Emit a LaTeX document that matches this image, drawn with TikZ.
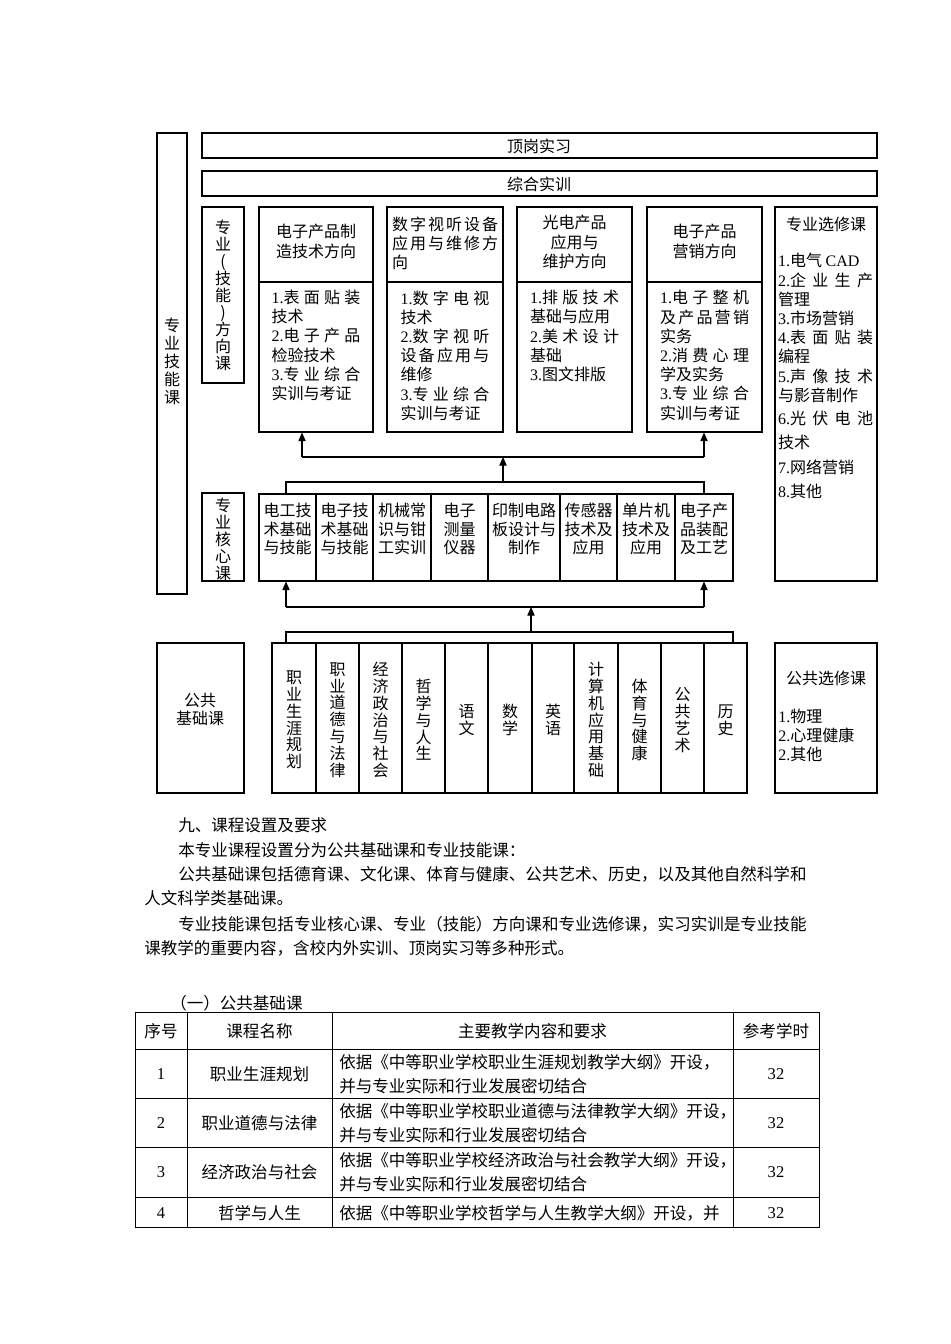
\documentclass[tikz,border=0pt]{standalone}
\usepackage{fontspec}
\setmainfont{Noto Sans CJK SC}
\newfontfamily\tnr{Liberation Serif}
\usetikzlibrary{arrows.meta,fit}
\XeTeXlinebreaklocale "zh"
\XeTeXlinebreakskip=0pt plus 8pt
\newcommand\N[1]{{\tnr #1}}
\tikzset{
  bx/.style={draw, line width=0.8pt, inner sep=0pt},
  ln/.style={line width=0.8pt},
  tl/.style={line width=0.7pt},
  df/.style={font=\fontsize{12}{14.4}\selectfont, inner sep=0pt},
  jt/.style={df, align=justify, text width=#1},
  vt/.style={inner sep=0pt, align=center, font=\fontsize{12}{#1}\selectfont},
  bf/.style={font=\fontsize{12.4}{18.4}\selectfont, inner sep=0pt},
  arr/.style={line width=0.8pt, -{Triangle[width=5.5pt,length=6.5pt]}},
}
\begin{document}
\begin{tikzpicture}[x=0.75pt,y=-0.75pt]
\fill[white] (0,0) rectangle (950,1344);
\useasboundingbox (0,0) rectangle (950,1344);

% ---------- boxes ----------
\node[bx, fit={(157,133)(187,594)}] (skill) {};
\node[bx, fit={(202,133)(877,158)}] (dg) {};
\node[bx, fit={(202,171)(877,196)}] (zh) {};
\node[bx, fit={(202,207)(244,383)}] (dirlab) {};
\node[bx, fit={(259,207)(373,432)}] (d1) {};
\node[bx, fit={(387,207)(503,432)}] (d2) {};
\node[bx, fit={(517,207)(632,432)}] (d3) {};
\node[bx, fit={(647,207)(762,432)}] (d4) {};
\node[bx, fit={(775,207)(877,581)}] (el) {};
\node[bx, fit={(202,493)(244,581)}] (corelab) {};
\foreach \a/\b [count=\i] in {259/316,316/373,373/431,431/488,488/560,560/617,617/675,675/733}
  \node[bx, fit={(\a,494)(\b,581)}] (c\i) {};
\node[bx, fit={(157,643)(244,793)}] (publab) {};
\foreach \a/\b [count=\i] in {272/316,316/359,359/402,402/445,445/488,488/532,532/574,574/618,618/661,661/704,704/747}
  \node[bx, fit={(\a,643)(\b,793)}] (p\i) {};
\node[bx, fit={(775,643)(877,793)}] (pel) {};

\foreach \d in {d1,d2,d3,d4}
  \draw[ln] (\d.west |- 0,282) -- (\d.east |- 0,282);

% ---------- connectors ----------
\coordinate (u1) at (286,482); \coordinate (u2) at (704,482);
\coordinate (u3) at (503,482); \coordinate (u4) at (503,457);
\coordinate (u5) at (302,457); \coordinate (u6) at (704,457);
\draw[ln] (c1.north -| u1) -- (u1) -- (u2) -- (c8.north -| u2);
\draw[arr] (u3) -- (u4);
\draw[ln] (u5) -- (u6);
\draw[arr] (u5) -- (d1.south -| u5);
\draw[arr] (u6) -- (d4.south -| u6);

\coordinate (l1) at (286,632); \coordinate (l2) at (733,632);
\coordinate (l3) at (531,632); \coordinate (l4) at (531,607);
\coordinate (l5) at (286,607); \coordinate (l6) at (704,607);
\draw[ln] (p1.north -| l1) -- (l1) -- (l2) -- (p11.north -| l2);
\draw[arr] (l3) -- (l4);
\draw[ln] (l5) -- (l6);
\draw[arr] (l5) -- (c1.south -| l5);
\draw[arr] (l6) -- (c8.south -| l6);

% ---------- texts ----------
\node[vt=13.5pt] (skillt) at (172,361) {专\\业\\技\\能\\课};
\node[df] (dgt) at (539,146) {顶岗实习};
\node[df] (zht) at (539,184) {综合实训};
\node[vt=12.7pt] (dirlabt) at (223,295.5) {专\\业\\(\\技\\能\\)\\方\\向\\课};

\node[df, align=center] (d1h) at (316,241.5) {电子产品制\\造技术方向};
\node[jt=66.75pt] (d1b) at (316,345.5) {\N{1.}表面贴装\linebreak 技术\\ \N{2.}电子产品\linebreak 检验技术\\ \N{3.}专业综合\linebreak 实训与考证};

\node[jt=79.5pt] (d2h) at (445,243.5) {数字视听设备\linebreak 应用与维修方\linebreak 向};
\node[jt=66.75pt] (d2b) at (445,355.5) {\N{1.}数字电视\linebreak 技术\\ \N{2.}数字视听\linebreak 设备应用与\linebreak 维修\\ \N{3.}专业综合\linebreak 实训与考证};

\node[df, align=center] (d3h) at (574.5,242) {光电产品\\应用与\\维护方向};
\node[jt=66.75pt] (d3b) at (574.5,336) {\N{1.}排版技术\linebreak 基础与应用\\ \N{2.}美术设计\linebreak 基础\\ \N{3.}图文排版};

\node[df, align=center] (d4h) at (704.5,241.5) {电子产品\\营销方向};
\node[jt=66.75pt] (d4b) at (704.5,355.5) {\N{1.}电子整机\linebreak 及产品营销\linebreak 实务\\ \N{2.}消费心理\linebreak 学及实务\\ \N{3.}专业综合\linebreak 实训与考证};

\node[df] (elt) at (826,224) {专业选修课};
\node[jt=71.25pt] (el1) at (825.5,328) {\N{1.}电气 \N{CAD}\\ \N{2.}企业生产\linebreak 管理\\ \N{3.}市场营销\\ \N{4.}表面贴装\linebreak 编程\\ \N{5.}声像技术\linebreak 与影音制作};
\node[jt=71.25pt, font=\fontsize{12}{18.4}\selectfont] (el2) at (825.5,455) {\N{6.}光伏电池\linebreak 技术\\ \N{7.}网络营销\\ \N{8.}其他};

\node[vt=12.75pt] (corelabt) at (223,539) {专\\业\\核\\心\\课};
\node[vt=13.9pt] (ct1) at (287.5,529) {电工技\\术基础\\与技能};
\node[vt=13.9pt] (ct2) at (344.5,529) {电子技\\术基础\\与技能};
\node[vt=13.9pt] (ct3) at (402,529) {机械常\\识与钳\\工实训};
\node[vt=13.9pt] (ct4) at (459.5,529) {电子\\测量\\仪器};
\node[vt=13.9pt] (ct5) at (524,529) {印制电路\\板设计与\\制作};
\node[vt=13.9pt] (ct6) at (588.5,529) {传感器\\技术及\\应用};
\node[vt=13.9pt] (ct7) at (646,529) {单片机\\技术及\\应用};
\node[vt=13.9pt] (ct8) at (704,529) {电子产\\品装配\\及工艺};

\node[vt=13.5pt] (publabt) at (200,709) {公共\\基础课};
\node[vt=12.6pt] (pt1) at (294,720) {职\\业\\生\\涯\\规\\划};
\node[vt=12.6pt] (pt2) at (337.5,720) {职\\业\\道\\德\\与\\法\\律};
\node[vt=12.6pt] (pt3) at (380.5,720) {经\\济\\政\\治\\与\\社\\会};
\node[vt=12.6pt] (pt4) at (423.5,720) {哲\\学\\与\\人\\生};
\node[vt=12.6pt] (pt5) at (466.5,720) {语\\文};
\node[vt=12.6pt] (pt6) at (510,720) {数\\学};
\node[vt=12.6pt] (pt7) at (553,720) {英\\语};
\node[vt=12.6pt] (pt8) at (596,720) {计\\算\\机\\应\\用\\基\\础};
\node[vt=12.6pt] (pt9) at (639.5,720) {体\\育\\与\\健\\康};
\node[vt=12.6pt] (pt10) at (682.5,720) {公\\共\\艺\\术};
\node[vt=12.6pt] (pt11) at (725.5,720) {历\\史};

\node[df] (pelt) at (826,678) {公共选修课};
\node[df, align=left, anchor=west, font=\fontsize{12}{14.25}\selectfont] (peli) at (778,735) {\N{1.}物理\\\N{2.}心理健康\\\N{2.}其他};

% ---------- body text ----------
\node[bf, anchor=west] (h9) at (178,825) {九、课程设置及要求};
\node[bf, anchor=west] (pa1) at (178,850) {本专业课程设置分为公共基础课和专业技能课：};
\node[bf, anchor=west] (pa2) at (178,874) {公共基础课包括德育课、文化课、体育与健康、公共艺术、历史，以及其他自然科学和};
\node[bf, anchor=west] (pa3) at (144,898) {人文科学类基础课。};
\node[bf, anchor=west] (pa4) at (178,924) {专业技能课包括专业核心课、专业（技能）方向课和专业选修课，实习实训是专业技能};
\node[bf, anchor=west] (pa5) at (144,948) {课教学的重要内容，含校内外实训、顶岗实习等多种形式。};
\node[bf, anchor=west] (h1) at (170,1003) {（一）公共基础课};

% ---------- table ----------
\draw[tl] (135,1012) rectangle (819,1227);
\foreach \y in {1049,1098,1147,1197} \draw[tl] (135,\y) -- (819,\y);
\foreach \x in {187,332,733} \draw[tl] (\x,1012) -- (\x,1227);

\node[bf] (th1) at (161,1031) {序号};
\node[bf] (th2) at (259.5,1031) {课程名称};
\node[bf] (th3) at (532.5,1031) {主要教学内容和要求};
\node[bf] (th4) at (776,1031) {参考学时};

\node[bf] (r1a) at (161,1074) {\N{1}};
\node[bf] (r1b) at (259.5,1074) {职业生涯规划};
\node[bf, align=left, anchor=west] (r1c) at (339,1074) {依据《中等职业学校职业生涯规划教学大纲》开设，\\并与专业实际和行业发展密切结合};
\node[bf] (r1d) at (776,1074) {\N{32}};

\node[bf] (r2a) at (161,1123) {\N{2}};
\node[bf] (r2b) at (259.5,1123) {职业道德与法律};
\node[bf, align=left, anchor=west] (r2c) at (339,1123) {依据《中等职业学校职业道德与法律教学大纲》开设，\\并与专业实际和行业发展密切结合};
\node[bf] (r2d) at (776,1123) {\N{32}};

\node[bf] (r3a) at (161,1172) {\N{3}};
\node[bf] (r3b) at (259.5,1172) {经济政治与社会};
\node[bf, align=left, anchor=west] (r3c) at (339,1172) {依据《中等职业学校经济政治与社会教学大纲》开设，\\并与专业实际和行业发展密切结合};
\node[bf] (r3d) at (776,1172) {\N{32}};

\node[bf] (r4a) at (161,1213) {\N{4}};
\node[bf] (r4b) at (259.5,1213) {哲学与人生};
\node[bf, anchor=west] (r4c) at (339,1213) {依据《中等职业学校哲学与人生教学大纲》开设，并};
\node[bf] (r4d) at (776,1213) {\N{32}};
\end{tikzpicture}
\end{document}
